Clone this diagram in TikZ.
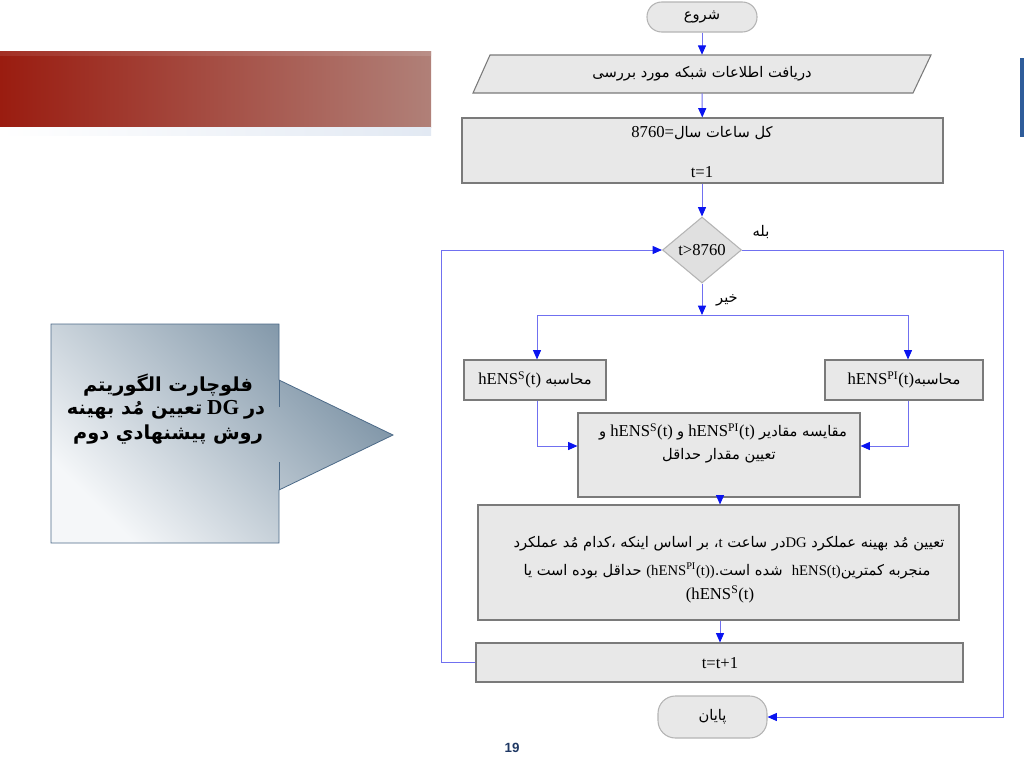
\documentclass[tikz,border=0pt]{standalone}
\usepackage{fontspec}
\setmainfont{Liberation Serif}
\newfontfamily\ar[Script=Arabic]{DejaVu Sans}
\newfontfamily\sansf{Liberation Sans}
\TeXXeTstate=1
\usetikzlibrary{arrows.meta,shapes.geometric,calc}
\definecolor{boxfill}{HTML}{E8E8E8}
\definecolor{boxline}{HTML}{7A7A7A}
\definecolor{termline}{HTML}{B4B4B4}
\definecolor{connc}{HTML}{7070F0}
\definecolor{tipc}{HTML}{0A14F0}
\definecolor{redA}{HTML}{9A1C10}
\definecolor{redB}{HTML}{B08078}
\definecolor{calD}{HTML}{7990A3}
\definecolor{calL}{HTML}{F5F7F9}
\definecolor{calB}{HTML}{4C6A88}
\definecolor{navy}{HTML}{1F3864}
\definecolor{barblue}{HTML}{2E5C9A}
\definecolor{paleblue}{HTML}{E2E9F3}
\newcommand{\AR}[1]{{\ar\beginR #1\endR}}
\newcommand{\LT}[1]{\beginL{\rmfamily #1}\endL}
\tikzset{
  box/.style={draw=boxline, fill=boxfill, line width=0.8pt, inner sep=0pt},
  term/.style={draw=termline, fill=boxfill, line width=0.8pt, rounded corners=11pt, inner sep=0pt},
  conn/.style={draw=connc, line width=0.75pt, -{Triangle[length=7pt,width=6pt,color=tipc]}},
  plain/.style={draw=connc, line width=0.75pt},
  txt/.style={inner sep=0pt, font=\fontsize{12.5}{14}\selectfont},
  artxt/.style={inner sep=0pt, font=\fontsize{11}{13}\selectfont},
  caltxt/.style={inner sep=0pt, font=\fontsize{14.5}{16}\selectfont\bfseries},
}
\begin{document}
\begin{tikzpicture}[x=0.75pt,y=-0.75pt]
\useasboundingbox (0,0) rectangle (1024,768);
% decorative banner
\shade[left color=redA, right color=redB] (0,51) rectangle (431,127);
\shade[left color=redA!85!white, right color=redB!80!white, opacity=0.6] (0,51) rectangle (431,55);
\shade[left color=white, right color=paleblue] (0,127) rectangle (431,135);
\fill[barblue] (1020,58) rectangle (1024,137);
% callout
\shadedraw[top color=calD, bottom color=calL, shading angle=-45, draw=calB, line width=0.6pt]
  (51,324) -- (279,324) -- (279,380) -- (393,435) -- (279,490) -- (279,543) -- (51,543) -- cycle;
\draw[calB, line width=0.6pt] (279,380) -- (279,407) (279,462) -- (279,490);
\node[caltxt] (c1) at (168,385) {\AR{فلوچارت الگوریتم}};
\node[caltxt] (c2) at (166,410) {\AR{تعیین مُد بهینه}~{\rmfamily\fontsize{16}{18}\selectfont DG}~\AR{در}};
\node[caltxt] (c3) at (168,435) {\AR{روش پیشنهادي دوم}};
% flowchart shapes
\node[term, minimum width=82.5pt, minimum height=22.5pt] (st) at (702,17) {};
\node[artxt] at (702,17) {\AR{شروع}};
\draw[box] (490,55) -- (931,55) -- (913,93) -- (473,93) -- cycle;
\node[artxt, minimum height=28.5pt] (in) at (702,74) {\AR{دریافت اطلاعات شبکه مورد بررسی}};
\node[box, minimum width=360.75pt, minimum height=48.75pt] (r1) at (702.5,150.5) {};
\node[txt] at (702,133) {8760={\ar\fontsize{11}{13}\selectfont\beginR کل ساعات سال\endR}};
\node[txt] at (702,172) {t=1};
\node[draw=termline, fill={rgb,255:red,224;green,224;blue,224}, line width=0.8pt, diamond, inner sep=0pt, minimum width=59.25pt, minimum height=49.5pt] (dia) at (702,250) {};
\node[txt] at (702,250) {t>8760};
\node[artxt] (yes) at (761,232) {\AR{بله}};
\node[artxt] (no) at (727,300) {\AR{خیر}};
\node[box, minimum width=106.5pt, minimum height=30pt] (bl) at (535,380) {};
\node[txt] at (535,380) {hENS\textsuperscript{S}(t) {\fontsize{11}{13}\selectfont\AR{محاسبه}}};
\node[box, minimum width=118.5pt, minimum height=30pt] (br) at (904,380) {};
\node[txt] at (904,380) {hENS\textsuperscript{PI}(t){\fontsize{11}{13}\selectfont\AR{محاسبه}}};
\node[box, minimum width=211.5pt, minimum height=63pt] (cmp) at (719,455) {};
\node[txt] at (723,432) {{\fontsize{11}{13}\selectfont\AR{و}} hENS\textsuperscript{S}(t) {\fontsize{11}{13}\selectfont\AR{و}} hENS\textsuperscript{PI}(t) {\fontsize{11}{13}\selectfont\AR{مقایسه مقادیر}}};
\node[artxt] at (719,456) {\AR{تعیین مقدار حداقل}};
\node[box, minimum width=360.75pt, minimum height=86.25pt] (big) at (718.5,562.5) {};
\node[artxt] at (729,544) {{\ar\beginR تعیین مُد بهینه عملکرد \LT{DG}در ساعت \LT{t}، بر اساس اینکه ،کدام مُد عملکرد\endR}};
\node[artxt] at (727,571) {{\ar\beginR منجربه کمترین\LT{hENS(t)}\ \ شده است.\LT{(hENS\textsuperscript{PI}(t))} حداقل بوده است یا\endR}};
\node[txt] at (720,594) {(hENS\textsuperscript{S}(t)};
\node[box, minimum width=365.25pt, minimum height=29.25pt] (tt) at (719.5,662.5) {};
\node[txt] at (720,663) {t=t+1};
\node[term, minimum width=81.75pt, minimum height=31.5pt, rounded corners=13pt] (en) at (712.5,717) {};
\node[artxt] at (712.5,717) {\AR{پایان}};
\node[inner sep=0pt, font=\sansf\bfseries\fontsize{10}{12}\selectfont, text=navy] (pg) at (512,748) {19};
% connectors
\coordinate (sp) at (702,315);
\coordinate (spL) at (537,315);
\coordinate (spR) at (908,315);
\coordinate (cx) at (720,0);
\draw[conn] (st) -- (in);
\draw[conn] (in) -- (r1);
\draw[conn] (r1.south -| dia) -- (dia);
\draw[conn] (dia) -- (sp);
\draw[plain] (spL) -- (spR);
\draw[conn] (spL) -- (spL |- bl.north);
\draw[conn] (spR) -- (spR |- br.north);
\draw[conn] (spL |- bl.south) |- ([yshift=6.75pt]cmp.west);
\draw[conn] (spR |- br.south) |- ([yshift=6.75pt]cmp.east);
\draw[conn] (cmp.south -| cx) -- (cx |- big.north);
\draw[conn] (big.south -| cx) -- (cx |- tt.north);
\draw[conn] (tt.west) -- ++(-34,0) |- (dia.west);
\draw[conn] (dia.east) -- ++(261,0) |- (en.east);
\end{tikzpicture}
\end{document}
